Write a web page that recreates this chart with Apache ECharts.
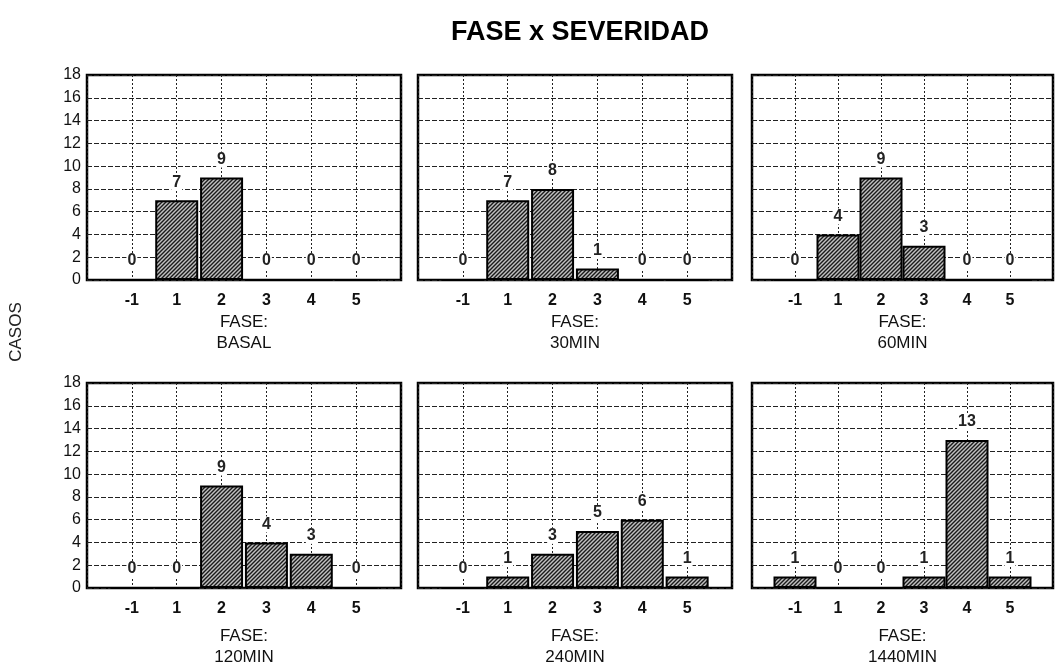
<!DOCTYPE html>
<html>
<head>
<meta charset="utf-8">
<title>FASE x SEVERIDAD</title>
<script src="https://cdn.jsdelivr.net/npm/echarts@6/dist/echarts.min.js"></script>
<style>
  html, body { margin: 0; padding: 0; background: #fff; }
  #chart { width: 1056px; height: 671px; }
</style>
</head>
<body>
<div id="chart"></div>
<script>
// severidad (eje x) y casos por fase
const severidad = ['-1', '1', '2', '3', '4', '5'];
const fases = ['BASAL', '30MIN', '60MIN', '120MIN', '240MIN', '1440MIN'];
const casosBasal = [0, 7, 9, 0, 0, 0];
const casos30 = [0, 7, 8, 1, 0, 0];
const casos60 = [0, 4, 9, 3, 0, 0];
const casos120 = [0, 0, 9, 4, 3, 0];
const casos240 = [0, 1, 3, 5, 6, 1];
const casos1440 = [1, 0, 0, 1, 13, 1];
const yMin = 0, yMax = 18, yStep = 2;

const casosPorFase = [casosBasal, casos30, casos60, casos120, casos240, casos1440];

const FONT = "'Liberation Sans', Arial, sans-serif";

// trama rayada para las barras
function hatch() {
  const c = document.createElement('canvas');
  c.width = 4;
  c.height = 4;
  const ctx = c.getContext('2d');
  ctx.fillStyle = '#c0c0c0';
  ctx.fillRect(0, 0, 4, 4);
  ctx.strokeStyle = '#1a1a1a';
  ctx.lineWidth = 1.4;
  ctx.beginPath();
  ctx.moveTo(-1, 5); ctx.lineTo(5, -1);
  ctx.moveTo(-1, 1); ctx.lineTo(1, -1);
  ctx.moveTo(3, 5); ctx.lineTo(5, 3);
  ctx.stroke();
  return c;
}
const pattern = hatch();

const lefts = [87, 418, 752];
const tops = [75, 383];
const W = 314, H = 205;

const grid = [], xAxis = [], yAxis = [], series = [];
fases.forEach((fase, i) => {
  const col = i % 3, row = Math.floor(i / 3);
  grid.push({
    left: lefts[col], top: tops[row], width: W, height: H,
    show: true, borderColor: '#000', borderWidth: 2.5,
  });
  xAxis.push({
    type: 'value', gridIndex: i, min: -1, max: 6, interval: 1,
    name: 'FASE:\n' + fase,
    nameLocation: 'middle',
    nameGap: row === 0 ? 32 : 38,
    nameTextStyle: { fontFamily: FONT, fontSize: 17, color: '#111', lineHeight: 21 },
    axisLine: { show: false },
    axisTick: { show: false },
    axisLabel: {
      margin: 13, fontFamily: FONT, fontSize: 16, fontWeight: 'bold', color: '#111',
      formatter: (v) => severidad[v] || '',
    },
    splitLine: { show: true, lineStyle: { color: '#222', width: 1, type: [2, 2] } },
  });
  yAxis.push({
    type: 'value', gridIndex: i, min: yMin, max: yMax, interval: yStep,
    axisLine: { show: false },
    axisTick: { show: false },
    axisLabel: {
      show: col === 0, margin: 6, fontFamily: FONT, fontSize: 16, color: '#111',
    },
    splitLine: { show: true, lineStyle: { color: '#222', width: 1, type: [5, 2] } },
  });
  series.push({
    type: 'bar', xAxisIndex: i, yAxisIndex: i,
    barWidth: 43,
    data: casosPorFase[i].map((v, k) => [k, v]),
    itemStyle: {
      color: { image: pattern, repeat: 'repeat' },
      borderColor: '#000', borderWidth: 2,
    },
    label: {
      show: true, position: 'top', distance: 10,
      fontFamily: FONT, fontSize: 16, fontWeight: 'bold', color: '#222',
      backgroundColor: '#fff', padding: [0, 1],
      formatter: (p) => p.value[1],
    },
  });
});

const chart = echarts.init(document.getElementById('chart'));
chart.setOption({
  animation: false,
  title: {
    text: 'FASE x SEVERIDAD', left: 446, top: 14,
    textStyle: { fontFamily: FONT, fontSize: 27, fontWeight: 'bold', color: '#000' },
  },
  graphic: [{
    type: 'text', x: 16, y: 332, rotation: Math.PI / 2,
    style: {
      text: 'CASOS', fontFamily: FONT, fontSize: 17, fill: '#222',
      textAlign: 'center', textVerticalAlign: 'middle',
    },
  }],
  grid, xAxis, yAxis, series,
});
</script>
</body>
</html>
